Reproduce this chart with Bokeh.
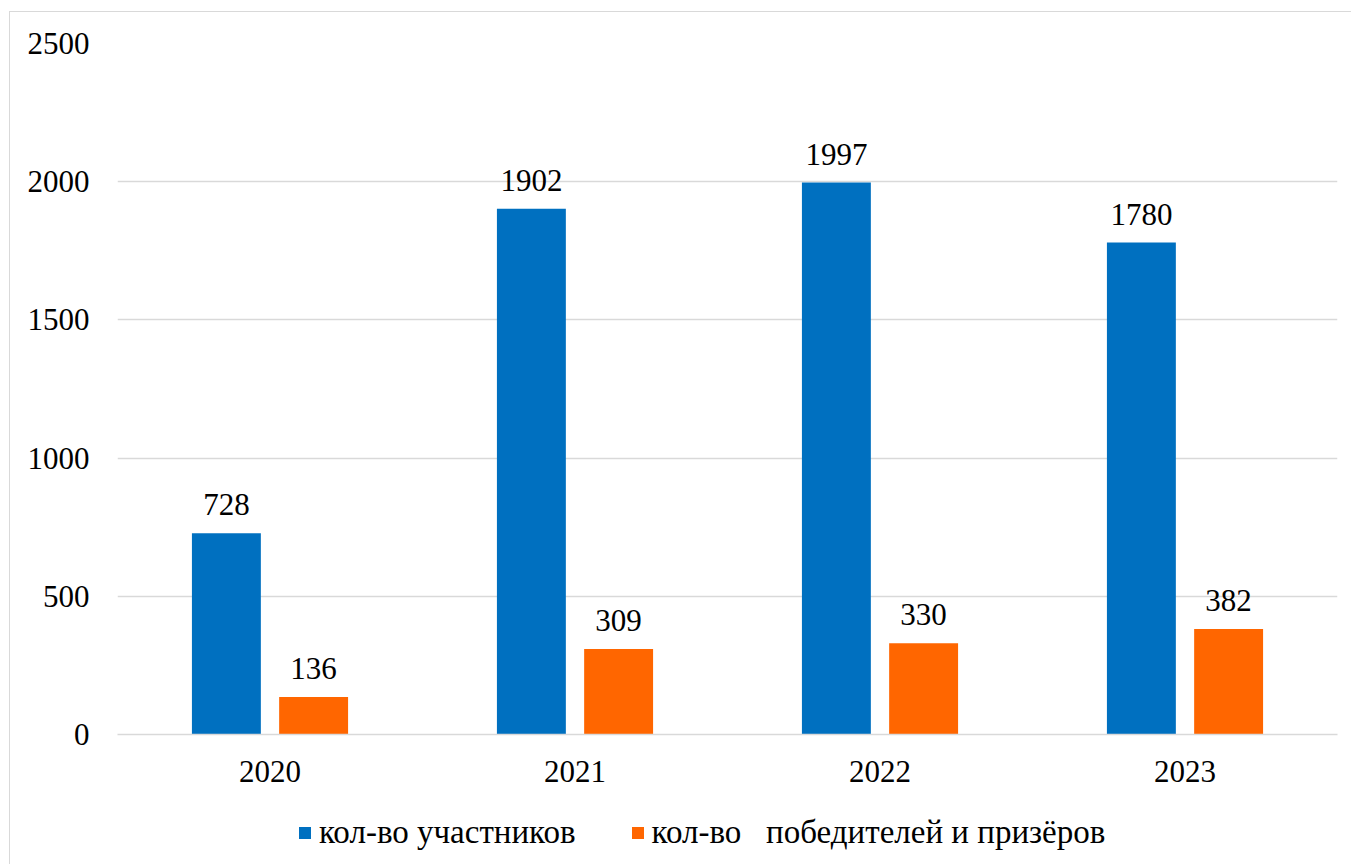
from bokeh.plotting import figure
from bokeh.layouts import column
from bokeh.models import ColumnDataSource, FactorRange, Range1d, Legend, LegendItem, LabelSet, FixedTicker
from bokeh.core.properties import value
from bokeh.transform import dodge
from bokeh.embed import file_html
from bokeh.resources import INLINE

years = ["2020", "2021", "2022", "2023"]
participants = [728, 1902, 1997, 1780]
winners = [136, 309, 330, 382]
label_participants = "кол-во участников"
label_winners = "кол-во   победителей и призёров"
y_ticks = [0, 500, 1000, 1500, 2000, 2500]

FONT = "Liberation Serif"
FS = "31px"
FS_LEG = "33px"
BLUE = "#0070C0"
ORANGE = "#FF6600"
GRID = "#D9D9D9"
W = 1341

src = ColumnDataSource(dict(
    year=years,
    participants=participants,
    winners=winners,
    p_text=[str(v) for v in participants],
    w_text=[str(v) for v in winners],
))

p = figure(
    x_range=FactorRange(factors=years),
    y_range=Range1d(0, 2500),
    width=W, height=782,
    output_backend="svg", toolbar_location=None,
    min_border_left=107, min_border_right=14,
    min_border_top=31, min_border_bottom=60,
)
p.outline_line_color = None

off = 0.143
bw = 0.226
r1 = p.vbar(x=dodge("year", -off, range=p.x_range), top="participants", width=bw,
            source=src, fill_color=BLUE, line_color=None)
r2 = p.vbar(x=dodge("year", off, range=p.x_range), top="winners", width=bw,
            source=src, fill_color=ORANGE, line_color=None)

for xoff, col, txt in [(-off, "participants", "p_text"), (off, "winners", "w_text")]:
    lbl = LabelSet(x=dodge("year", xoff, range=p.x_range), y=col, text=txt, source=src,
                   text_align="center", text_baseline="alphabetic", y_offset=18,
                   text_font=value(FONT), text_font_size=value(FS), text_color="#000000")
    p.add_layout(lbl)

p.yaxis.ticker = FixedTicker(ticks=y_ticks)
p.yaxis.axis_line_color = None
p.yaxis.major_tick_line_color = None
p.yaxis.minor_tick_line_color = None
p.yaxis.major_label_standoff = 22
p.yaxis.major_label_text_font = FONT
p.yaxis.major_label_text_font_size = FS
p.yaxis.major_label_text_color = "#000000"

p.xaxis.axis_line_color = GRID
p.xaxis.axis_line_width = 1.5
p.xaxis.major_tick_line_color = None
p.xaxis.minor_tick_line_color = None
p.xaxis.major_label_standoff = 20
p.xaxis.major_label_text_font = FONT
p.xaxis.major_label_text_font_size = FS
p.xaxis.major_label_text_color = "#000000"

p.xgrid.grid_line_color = None
p.ygrid.grid_line_color = GRID
p.ygrid.grid_line_width = 1.5

# legend panel: proxy renderers (hidden) only supply the legend swatches
lf = figure(width=W, height=70, x_range=FactorRange(factors=years), y_range=Range1d(-2, -1),
            output_backend="svg", toolbar_location=None,
            x_axis_location=None, y_axis_location=None,
            min_border_left=0, min_border_right=0, min_border_top=0, min_border_bottom=0)
lf.grid.visible = False
lf.outline_line_color = None
lr1 = lf.vbar(x="year", top="participants", width=0.1, source=src, fill_color=BLUE, line_color=None)
lr2 = lf.vbar(x="year", top="winners", width=0.1, source=src, fill_color=ORANGE, line_color=None)
lr1.visible = False
lr2.visible = False
legend = Legend(items=[LegendItem(label=label_participants, renderers=[lr1]),
                       LegendItem(label=label_winners, renderers=[lr2])],
                orientation="horizontal", location=(180, 13),
                glyph_width=15, glyph_height=15, label_standoff=7, spacing=54,
                label_text_font=FONT, label_text_font_size=FS_LEG, label_text_color="#000000",
                border_line_color=None, background_fill_alpha=0, margin=0, padding=0)
lf.add_layout(legend, "center")

layout = column(p, lf, spacing=0)
layout.styles = {"border-left": "1px solid #D9D9D9", "border-top": "1px solid #D9D9D9",
                 "margin-left": "9px", "margin-top": "11px"}

open("out.html", "w").write(file_html(layout, INLINE))
